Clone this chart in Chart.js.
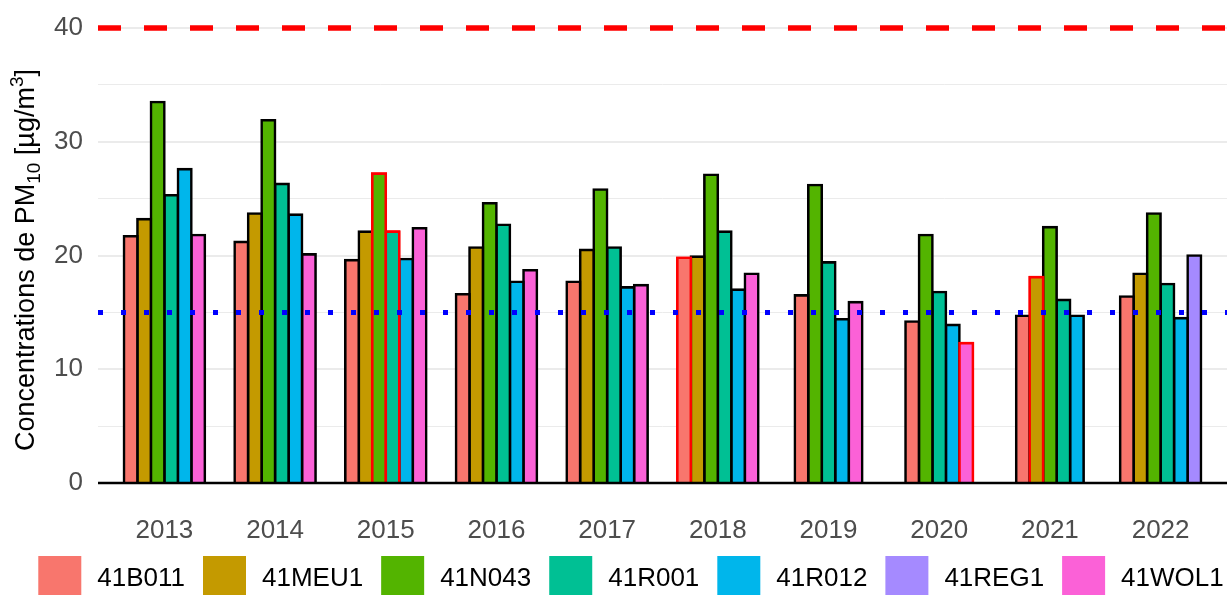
<!DOCTYPE html>
<html>
<head>
<meta charset="utf-8">
<script src="https://cdn.jsdelivr.net/npm/chart.js@4/dist/chart.umd.min.js"></script>
<style>
  html, body { margin: 0; padding: 0; background: #ffffff; overflow: hidden; }
  #wrap { width: 1227px; height: 595px; position: relative; }
</style>
</head>
<body>
<div id="wrap"><canvas id="chart" width="1227" height="595"></canvas></div>
<script>
// Annual mean PM10 concentrations per monitoring station (µg/m³)
const years    = [2013, 2014, 2015, 2016, 2017, 2018, 2019, 2020, 2021, 2022];
const stations = ['41B011', '41MEU1', '41N043', '41R001', '41R012', '41REG1', '41WOL1'];

const b011 = [21.7, 21.2, 19.6, 16.6, 17.7, 19.8, 16.5, 14.2, 14.7, 16.4];
const meu1 = [23.2, 23.7, 22.1, 20.7, 20.5, 19.9, null, null, 18.1, 18.4];
const n043 = [33.5, 31.9, 27.2, 24.6, 25.8, 27.1, 26.2, 21.8, 22.5, 23.7];
const r001 = [25.3, 26.3, 22.1, 22.7, 20.7, 22.1, 19.4, 16.8, 16.1, 17.5];
const r012 = [27.6, 23.6, 19.7, 17.7, 17.2, 17.0, 14.4, 13.9, 14.7, 14.5];
const reg1 = [null, null, null, null, null, null, null, null, null, 20.0];
const wol1 = [21.8, 20.1, 22.4, 18.7, 17.4, 18.4, 15.9, 12.3, null, null];

// Station-years with incomplete data coverage (outlined in red)
const incomplete = [['41N043', 2015], ['41R001', 2015], ['41B011', 2018], ['41WOL1', 2020], ['41MEU1', 2021]];

// Reference values: EU annual limit and WHO guideline
const euLimit = 40;
const whoGuideline = 15;

const yTickValues = [0, 5, 10, 15, 20, 25, 30, 35, 40];

const FONT = "'Liberation Sans', Arial, Helvetica, sans-serif";
Chart.defaults.font.family = FONT;

const series  = [b011, meu1, n043, r001, r012, reg1, wol1];
const palette = ['#F8766D', '#C49A00', '#53B400', '#00C094', '#00B6EB', '#A58AFF', '#FB61D7'];

const isIncomplete = (station, year) => incomplete.some(([s, y]) => s === station && y === year);

const xMin = years[0] - 0.6;
const xMax = years[years.length - 1] + 0.6;

const barSets = stations.map((name, i) => ({
  type: 'bar',
  label: name,
  data: years.map((yr, k) => ({ x: yr, y: series[i][k] })),
  backgroundColor: palette[i],
  borderColor: c => (c.dataIndex !== undefined && isIncomplete(name, years[c.dataIndex])) ? '#FF0000' : '#000000',
  borderWidth: 2.6,
  borderSkipped: 'start',
  inflateAmount: 1.3,
  barThickness: 13.5,
  skipNull: true
}));

function hLine(value, color, width, dash) {
  return {
    type: 'line',
    label: '',
    data: [{ x: xMin, y: value }, { x: xMax, y: value }],
    borderColor: color,
    borderWidth: width,
    borderDash: dash,
    borderCapStyle: 'butt',
    pointRadius: 0,
    pointHoverRadius: 0,
    fill: false,
    tension: 0,
    clip: false,
    order: -1
  };
}

const lineSets = [
  hLine(0, '#000000', 2.4, []),
  hLine(euLimit, '#FF0000', 5.5, [23, 23]),
  hLine(whoGuideline, '#0000FF', 5, [5, 18])
];

// Red-outlined bars are painted again so their outline stays on top of neighbours
const outlinePlugin = {
  id: 'outlineOnTop',
  afterDatasetDraw(chart, args) {
    if (args.index !== 0) return;
    const ctx = chart.ctx;
    const a = chart.chartArea;
    ctx.save();
    ctx.beginPath();
    ctx.rect(a.left, a.top - 10, a.right - a.left, a.bottom - a.top + 10);
    ctx.clip();
    chart.data.datasets.forEach((ds, di) => {
      if (ds.type !== 'bar') return;
      const meta = chart.getDatasetMeta(di);
      meta.data.forEach((el, k) => {
        if (series[di][k] !== null && isIncomplete(ds.label, years[k])) el.draw(ctx);
      });
    });
    ctx.restore();
  }
};

// Y axis title with subscript and superscript
const yTitlePlugin = {
  id: 'yTitle',
  afterDraw(chart) {
    const ctx = chart.ctx;
    const parts = [
      { t: 'Concentrations de PM', size: 27, dy: 0 },
      { t: '10', size: 19, dy: 6 },
      { t: ' [µg/m', size: 27, dy: 0 },
      { t: '3', size: 19, dy: -11 },
      { t: ']', size: 27, dy: 0 }
    ];
    ctx.save();
    ctx.fillStyle = '#000000';
    ctx.textBaseline = 'alphabetic';
    ctx.textAlign = 'left';
    let total = 0;
    parts.forEach(p => { ctx.font = p.size + 'px ' + FONT; p.w = ctx.measureText(p.t).width; total += p.w; });
    ctx.translate(34, 260);
    ctx.rotate(-Math.PI / 2);
    let x = -total / 2;
    parts.forEach(p => { ctx.font = p.size + 'px ' + FONT; ctx.fillText(p.t, x, p.dy); x += p.w; });
    ctx.restore();
  }
};

// Legend row at the bottom
const legendPlugin = {
  id: 'bottomLegend',
  afterDraw(chart) {
    const ctx = chart.ctx;
    const box = 43, gapText = 16, gapItem = 18, top = 556, centreX = 631;
    ctx.save();
    ctx.font = '26px ' + FONT;
    const items = chart.data.datasets.filter(d => d.type === 'bar');
    const widths = items.map(d => box + gapText + ctx.measureText(d.label).width);
    const total = widths.reduce((s, w) => s + w, 0) + gapItem * (items.length - 1);
    let x = centreX - total / 2;
    ctx.textBaseline = 'middle';
    ctx.textAlign = 'left';
    items.forEach((d, i) => {
      ctx.fillStyle = d.backgroundColor;
      ctx.fillRect(x, top, box, box);
      ctx.fillStyle = '#000000';
      ctx.fillText(d.label, x + box + gapText, top + box / 2 + 1);
      x += widths[i] + gapItem;
    });
    ctx.restore();
  }
};

new Chart(document.getElementById('chart'), {
  type: 'bar',
  data: { datasets: [...barSets, ...lineSets] },
  options: {
    responsive: false,
    animation: false,
    events: [],
    layout: { padding: { left: 35, right: 0, top: 11, bottom: 0 } },
    plugins: {
      legend: { display: false },
      tooltip: { enabled: false },
      title: { display: false }
    },
    scales: {
      x: {
        type: 'linear',
        min: xMin,
        max: xMax,
        offset: false,
        afterBuildTicks: s => { s.ticks = years.map(v => ({ value: v })); },
        afterFit: s => { s.height = 112; s.paddingLeft = 0; s.paddingRight = 0; },
        ticks: {
          callback: v => String(v),
          font: { size: 26 },
          color: '#4D4D4D',
          padding: 32,
          maxRotation: 0,
          autoSkip: false
        },
        grid: { display: false, drawTicks: false, offset: false },
        border: { display: false }
      },
      y: {
        min: 0,
        max: 41.5,
        afterBuildTicks: s => { s.ticks = yTickValues.map(v => ({ value: v })); },
        afterFit: s => { s.width = 63; s.paddingTop = 0; s.paddingBottom = 0; },
        ticks: {
          callback: v => (v % 10 === 0 ? String(v) : ''),
          font: { size: 26 },
          color: '#4D4D4D',
          padding: 15
        },
        grid: {
          drawTicks: false,
          color: '#EBEBEB',
          lineWidth: c => (c.tick && c.tick.value % 10 === 0 ? 2 : 1)
        },
        border: { display: false }
      }
    }
  },
  plugins: [outlinePlugin, yTitlePlugin, legendPlugin]
});
</script>
</body>
</html>
